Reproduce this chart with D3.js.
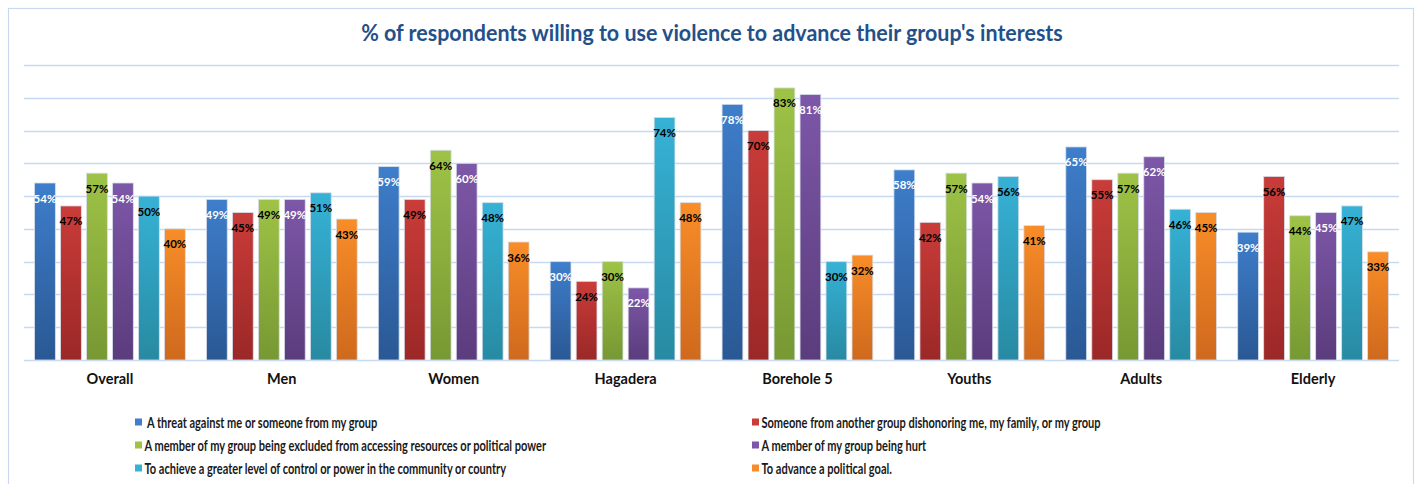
<!DOCTYPE html>
<html>
<head>
<meta charset="utf-8">
<script src="https://cdn.jsdelivr.net/npm/d3@7"></script>
<style>
  html, body { margin: 0; padding: 0; background: #fff; }
  svg { display: block; }
  text { font-family: Lato, "Open Sans", sans-serif; }
</style>
</head>
<body>
<svg id="chart" width="1418" height="484"></svg>
<script>
// ---- data ----
const categories = ["Overall", "Men", "Women", "Hagadera", "Borehole 5", "Youths", "Adults", "Elderly"];
const seriesNames = [
  "A threat against me or someone from my group",
  "Someone from another group dishonoring me, my family, or my group",
  "A member of my group being excluded from accessing resources or political power",
  "A member of my group being hurt",
  "To achieve a greater level of control or power in the community or country",
  "To advance a political goal."
];
const threatValues     = [54, 49, 59, 30, 78, 58, 65, 39];
const dishonorValues   = [47, 45, 49, 24, 70, 42, 55, 56];
const excludedValues   = [57, 49, 64, 30, 83, 57, 57, 44];
const hurtValues       = [54, 49, 60, 22, 81, 54, 62, 45];
const controlValues    = [50, 51, 48, 74, 30, 56, 46, 47];
const politicalValues  = [40, 43, 36, 48, 32, 41, 45, 33];
const yTicks = [0, 10, 20, 30, 40, 50, 60, 70, 80, 90];

const seriesValues = [threatValues, dishonorValues, excludedValues, hurtValues, controlValues, politicalValues];
const colorsTop    = ["#3e7ecb", "#c93c39", "#9ec346", "#7d57a8", "#36b2d6", "#f88d28"];
const colorsBottom = ["#2a5894", "#9b2827", "#779833", "#5b3c7c", "#288aa2", "#cf691d"];
const labelColors  = ["#ffffff", "#000000", "#000000", "#ffffff", "#000000", "#000000"];

// ---- layout ----
const svg = d3.select("#chart");
const plot = { left: 24, right: 1399, top: 65, bottom: 360 };

// frame
svg.append("rect")
  .attr("x", 8.5).attr("y", 8.5).attr("width", 1405).attr("height", 490)
  .attr("fill", "#fff").attr("stroke", "#c9daf0").attr("stroke-width", 1.2);

const x0 = d3.scaleBand().domain(categories).range([plot.left, plot.right])
  .paddingInner(0.123).paddingOuter(0.0615);
const x1 = d3.scaleBand().domain(d3.range(seriesNames.length)).range([0, x0.bandwidth()])
  .paddingInner(0.2).paddingOuter(0);
const y = d3.scaleLinear().domain([0, 90]).range([plot.bottom, plot.top]);

// gradients
const defs = svg.append("defs");
seriesNames.forEach((s, i) => {
  const g = defs.append("linearGradient").attr("id", "grad" + i)
    .attr("x1", 0).attr("y1", 0).attr("x2", 0).attr("y2", 1);
  g.append("stop").attr("offset", "0%").attr("stop-color", colorsTop[i]);
  g.append("stop").attr("offset", "100%").attr("stop-color", colorsBottom[i]);
});

// gridlines
svg.append("g").selectAll("line").data(yTicks).join("line")
  .attr("x1", plot.left).attr("x2", plot.right)
  .attr("y1", d => Math.round(y(d)) + 0.5).attr("y2", d => Math.round(y(d)) + 0.5)
  .attr("stroke", "#c6d9f1").attr("stroke-width", 1.3);

// bars
const groups = svg.append("g").selectAll("g").data(categories).join("g")
  .attr("transform", c => `translate(${x0(c)},0)`);

groups.each(function(c, ci) {
  const g = d3.select(this);
  const data = seriesValues.map((vals, si) => ({ si, v: vals[ci] }));
  g.selectAll("rect").data(data).join("rect")
    .attr("x", d => x1(d.si))
    .attr("y", d => y(d.v))
    .attr("width", x1.bandwidth())
    .attr("height", d => y(0) - y(d.v))
    .attr("fill", d => `url(#grad${d.si})`)
    .attr("stroke", "#d6deea").attr("stroke-width", 0.8);
  g.selectAll("text.lbl").data(data).join("text")
    .attr("class", "lbl")
    .attr("x", d => x1(d.si) + x1.bandwidth() / 2)
    .attr("y", d => y(d.v) + 19.5)
    .attr("text-anchor", "middle")
    .attr("font-size", 11.5).attr("font-weight", "bold")
    .attr("fill", d => labelColors[d.si])
    .text(d => d.v + "%");
});

// category axis labels
const xAxis = d3.axisBottom(x0).tickSize(0).tickPadding(14);
const xg = svg.append("g").attr("transform", `translate(0,${plot.bottom})`).call(xAxis);
xg.select(".domain").remove();
xg.selectAll("text").attr("font-size", 14.5).attr("font-weight", "bold").attr("fill", "#111")
  .style("font-family", "Lato, sans-serif");

// title (condensed horizontally to match the reference's narrow face)
const title = svg.append("text")
  .attr("text-anchor", "middle")
  .attr("font-weight", "bold").attr("font-size", 22).attr("fill", "#24508a")
  .text("% of respondents willing to use violence to advance their group's interests");
const tw = title.node().getComputedTextLength();
title.attr("transform", `translate(712,41) scale(${702 / tw},1)`);

// legend
const legendCols = [135, 752];
const legendRows = [422, 445, 468];
const legend = svg.append("g");
const items = legend.selectAll("g").data(seriesNames).join("g")
  .attr("transform", (d, i) => `translate(${legendCols[i % 2]},${legendRows[Math.floor(i / 2)]})`);
items.append("rect").attr("x", 0).attr("y", -3.5).attr("width", 7).attr("height", 7)
  .attr("fill", (d, i) => colorsTop[i]);
const ltexts = items.append("text")
  .attr("font-size", 15).attr("font-weight", "bold").attr("fill", "#1a1a1a")
  .text(d => d);
const lw = ltexts.nodes()[2].getComputedTextLength();
const kx = 402 / lw;
ltexts.attr("transform", (d, i) => `translate(${i === 0 ? 12 : 9.5},5.5) scale(${kx},1)`);
</script>
</body>
</html>
